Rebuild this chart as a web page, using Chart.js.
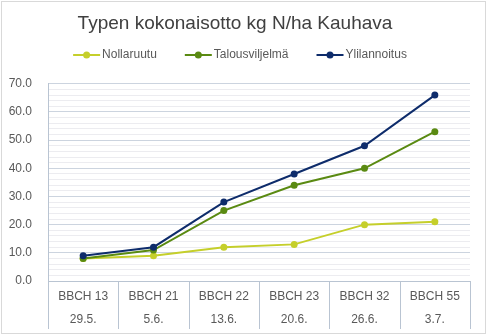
<!DOCTYPE html>
<html>
<head>
<meta charset="utf-8">
<script src="https://cdn.jsdelivr.net/npm/chart.js@4"></script>
<style>
  html, body { margin: 0; padding: 0; background: #fff; }
  #wrap { width: 486px; height: 336px; }
</style>
</head>
<body>
<div id="wrap"><canvas id="grafico"></canvas></div>
<script>
// Kasvuvaiheet ja näytteenottopäivät
const vaiheet = ["BBCH 13", "BBCH 21", "BBCH 22", "BBCH 23", "BBCH 32", "BBCH 55"];
const paivat = ["29.5.", "5.6.", "13.6.", "20.6.", "26.6.", "3.7."];

// Typen kokonaisotto kg N/ha
const nollaruutu = [8, 9, 12, 13, 20, 21];
const talousviljelma = [8, 11, 25, 34, 40, 53];
const ylilannoitus = [9, 12, 28, 38, 48, 66];

const yMin = 0;
const yMax = 70;
const yVali = 10;   // numeroidut viivat
const yApuvali = 2; // ohuet apuviivat

const fontti = "'Liberation Sans', Arial, sans-serif";
const viivaVari = "#b9c4d2";

// Valkoinen tausta ja harmaa reunus
const tausta = {
  id: "tausta",
  beforeDraw(chart) {
    const ctx = chart.ctx;
    ctx.save();
    ctx.fillStyle = "#fff";
    ctx.fillRect(0, 0, chart.width, chart.height);
    ctx.strokeStyle = "#d9d9d9";
    ctx.lineWidth = 1;
    ctx.strokeRect(1.5, 1.5, chart.width - 2, chart.height - 4);
    ctx.restore();
  }
};

// Pystyviivat x-akselin nimikkeiden väliin
const erottimet = {
  id: "erottimet",
  afterDraw(chart) {
    const ctx = chart.ctx;
    const x = chart.scales.x;
    const ala = chart.chartArea.bottom;
    ctx.save();
    ctx.strokeStyle = viivaVari;
    ctx.lineWidth = 1;
    for (let i = 0; i <= vaiheet.length; i++) {
      const px = Math.round(x.getPixelForValue(i - 0.5)) + 0.5;
      ctx.beginPath();
      ctx.moveTo(px, ala);
      ctx.lineTo(px, ala + 48);
      ctx.stroke();
    }
    ctx.restore();
  }
};

// Selite: viiva + pallo + teksti
const selite = {
  id: "selite",
  afterDraw(chart) {
    const ctx = chart.ctx;
    const sarjat = chart.data.datasets;
    const viiva = 27, rako = 2, vali = 28;
    ctx.save();
    ctx.font = "12px " + fontti;
    ctx.textBaseline = "middle";
    let leveys = 0;
    const tekstit = sarjat.map(s => ctx.measureText(s.label).width);
    tekstit.forEach((w, i) => { leveys += viiva + rako + w + (i > 0 ? vali : 0); });
    let x = chart.width / 2 - 3 - leveys / 2;
    const y = 55;
    sarjat.forEach((s, i) => {
      ctx.strokeStyle = s.borderColor;
      ctx.lineWidth = 2;
      ctx.beginPath();
      ctx.moveTo(x, y);
      ctx.lineTo(x + viiva, y);
      ctx.stroke();
      ctx.fillStyle = s.borderColor;
      ctx.beginPath();
      ctx.arc(x + viiva / 2, y, 3.5, 0, Math.PI * 2);
      ctx.fill();
      ctx.fillStyle = "#595959";
      ctx.fillText(s.label, x + viiva + rako, y);
      x += viiva + rako + tekstit[i] + vali;
    });
    ctx.restore();
  }
};

function sarja(nimi, arvot, vari, jarjestys) {
  return {
    label: nimi,
    data: arvot,
    borderColor: vari,
    backgroundColor: vari,
    pointBackgroundColor: vari,
    pointBorderColor: vari,
    borderWidth: 2,
    pointRadius: 3.5,
    pointBorderWidth: 0,
    tension: 0,
    order: jarjestys
  };
}

new Chart(document.getElementById("grafico"), {
  type: "line",
  data: {
    labels: vaiheet.map((v, i) => [v, paivat[i]]),
    datasets: [
      sarja("Nollaruutu", nollaruutu, "#c5cf2b", 3),
      sarja("Talousviljelmä", talousviljelma, "#5a8a12", 2),
      sarja("Ylilannoitus", ylilannoitus, "#0e2c6b", 1)
    ]
  },
  options: {
    responsive: true,
    maintainAspectRatio: false,
    animation: false,
    layout: { padding: { left: 0, right: 16, top: 0, bottom: 3 } },
    plugins: {
      legend: { display: false },
      tooltip: { enabled: false },
      title: {
        display: true,
        text: "Typen kokonaisotto kg N/ha Kauhava",
        color: "#404040",
        font: { family: fontti, size: 19, weight: "normal", lineHeight: 1.2 },
        padding: { top: 12, bottom: 49 }
      }
    },
    scales: {
      x: {
        offset: true,
        grid: { display: false, drawTicks: false },
        border: { display: true, color: viivaVari },
        ticks: {
          color: "#595959",
          font: { family: fontti, size: 12, lineHeight: 1.95 },
          padding: 4,
          maxRotation: 0,
          autoSkip: false
        },
        afterFit(scale) { scale.height = 52; }
      },
      y: {
        min: yMin,
        max: yMax,
        grid: {
          drawTicks: false,
          color: ctx => ctx.tick && ctx.tick.value % yVali === 0 ? "#ccd4df" : "#ececf0"
        },
        border: { display: true, color: viivaVari },
        ticks: {
          stepSize: yApuvali,
          autoSkip: false,
          color: "#595959",
          font: { family: fontti, size: 12 },
          padding: 16,
          callback: v => v % yVali === 0 ? v.toFixed(1) : ""
        },
        afterFit(scale) { scale.width = 48; }
      }
    }
  },
  plugins: [tausta, erottimet, selite]
});
</script>
</body>
</html>
